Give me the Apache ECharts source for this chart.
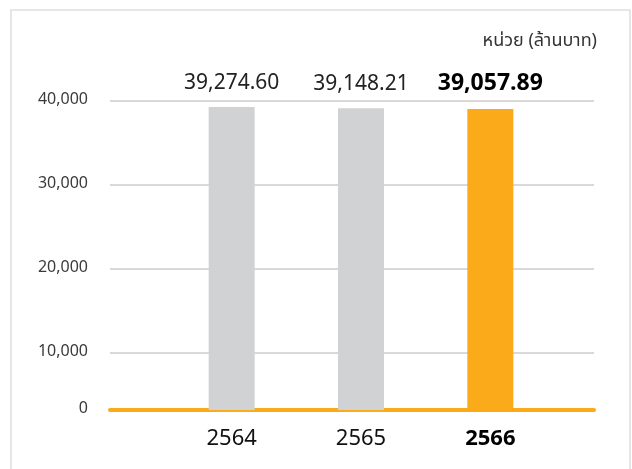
<!DOCTYPE html>
<html>
<head>
<meta charset="utf-8">
<script src="https://cdn.jsdelivr.net/npm/echarts@6/dist/echarts.min.js"></script>
<style>
  html, body { margin: 0; padding: 0; background: #fff; }
  #chart { width: 632px; height: 469px; }
</style>
</head>
<body>
<div id="chart"></div>
<script>
var years = ['2564', '2565', '2566'];
var amounts = [39274.60, 39148.21, 39057.89];
var barColors = ['#d1d2d4', '#d1d2d4', '#fbab19'];
// the baseline of the original is cut off, it is labelled 0
var yBase = 3200;
var yTicks = [yBase, 10000, 20000, 30000, 40000];
var unitText = 'หน่วย (ล้านบาท)';

var font = '"Noto Sans Thai", Tahoma, "DejaVu Sans", sans-serif';

function fmt(v, digits) {
    return v.toLocaleString('en-US', { minimumFractionDigits: digits, maximumFractionDigits: digits });
}

var chart = echarts.init(document.getElementById('chart'));

chart.setOption({
    animation: false,
    textStyle: { fontFamily: font },
    graphic: [
        {
            type: 'rect',
            shape: { x: 11, y: 10, width: 619, height: 470 },
            style: { fill: 'none', stroke: '#e6e6e6', lineWidth: 2 },
            silent: true
        },
        {
            type: 'text',
            right: 35,
            top: 33,
            style: { text: unitText, fontSize: 18, fill: '#333', fontFamily: font }
        }
    ],
    grid: [
        { left: 110, right: 38, top: 101, bottom: 59 },
        { left: 167, right: 77, top: 101, bottom: 59 }
    ],
    xAxis: [
        {
            gridIndex: 0,
            type: 'category',
            data: [''],
            axisLine: { show: true, lineStyle: { color: '#fbab19', width: 4 } },
            axisTick: { show: false },
            axisLabel: { show: false }
        },
        {
            gridIndex: 1,
            type: 'category',
            data: years,
            axisLine: { show: false },
            axisTick: { show: false },
            axisLabel: {
                margin: 20,
                fontSize: 22,
                color: '#111',
                fontFamily: font,
                formatter: function (v, i) {
                    return i === years.length - 1 ? '{b|' + v + '}' : v;
                },
                rich: { b: { fontSize: 22, fontWeight: 'bold', color: '#000', fontFamily: font } }
            }
        }
    ],
    yAxis: [
        {
            gridIndex: 0,
            type: 'value',
            min: yBase,
            max: 40000,
            axisLine: { show: false },
            axisTick: { show: false, customValues: yTicks },
            axisLabel: {
                customValues: yTicks,
                margin: 22,
                fontSize: 16,
                color: '#3a3a3a',
                fontFamily: font,
                padding: [4, 0, 0, 0],
                formatter: function (v) {
                    return v === yBase ? '0' : fmt(v, 0);
                }
            },
            splitLine: { show: true, lineStyle: { color: '#d9d9d9', width: 2 } }
        },
        {
            gridIndex: 1,
            type: 'value',
            min: yBase,
            max: 40000,
            show: false,
            splitLine: { show: false }
        }
    ],
    series: [
        {
            type: 'bar',
            xAxisIndex: 1,
            yAxisIndex: 1,
            barWidth: 46,
            z: 1,
            data: amounts.map(function (v, i) {
                return {
                    value: v,
                    itemStyle: { color: barColors[i] },
                    label: i === amounts.length - 1 ? { fontWeight: 'bold', color: '#000', fontSize: 23 } : {}
                };
            }),
            label: {
                show: true,
                position: 'top',
                distance: 12,
                fontSize: 21,
                color: '#222',
                fontFamily: font,
                formatter: function (p) { return fmt(p.value, 2); }
            }
        }
    ]
});
</script>
</body>
</html>
